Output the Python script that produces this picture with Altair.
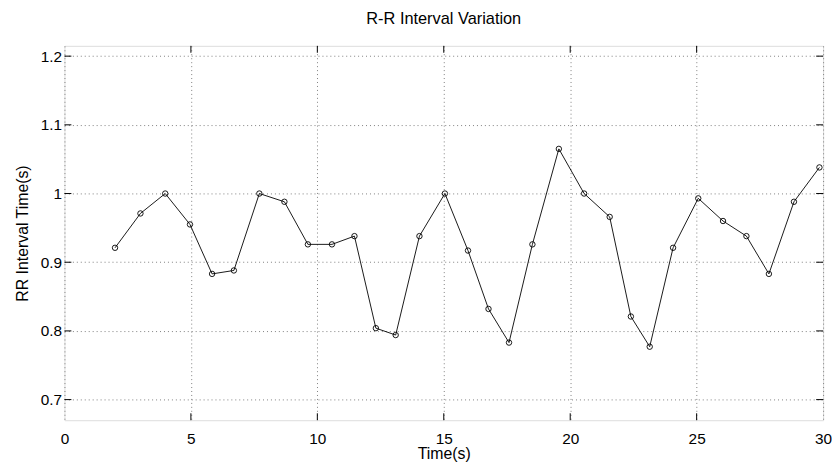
import altair as alt
import pandas as pd

time_s = [2.00, 3.005, 3.985, 4.964, 5.838, 6.70, 7.707, 8.698, 9.627, 10.579,
          11.468, 12.315, 13.098, 14.038, 15.045, 15.958, 16.769, 17.580, 18.505, 19.551,
          20.55, 21.561, 22.399, 23.144, 24.068, 25.063, 26.043, 26.968, 27.857, 28.848, 29.855]
rr_s = [0.921, 0.971, 1.000, 0.955, 0.883, 0.888, 1.000, 0.988, 0.926, 0.926,
        0.938, 0.804, 0.794, 0.938, 1.000, 0.917, 0.832, 0.783, 0.926, 1.065,
        1.000, 0.966, 0.821, 0.777, 0.921, 0.993, 0.960, 0.938, 0.883, 0.988, 1.038]
x_ticks = [0, 5, 10, 15, 20, 25, 30]
y_ticks = [0.7, 0.8, 0.9, 1.0, 1.1, 1.2]

W, H = 766, 378
TL = 7
FONT = "Liberation Sans"

df = pd.DataFrame({"t": time_s, "rr": rr_s})
xt = pd.DataFrame({"t": x_ticks[1:-1]})
yt = pd.DataFrame({"rr": y_ticks})

xs = alt.Scale(domain=[0, 30], nice=False, zero=False)
ys = alt.Scale(domain=[0.67, 1.215], nice=False, zero=False)

x_axis = alt.Axis(values=x_ticks, grid=True, gridDash=[1, 3], gridColor="#808080",
                  gridWidth=1, ticks=False, domain=False, labelPadding=12,
                  labelFontSize=15.5, labelFont=FONT, labelColor="black",
                  title="Time(s)", titleFontSize=16, titleFont=FONT,
                  titleFontWeight="normal", titleColor="black", titlePadding=-2,
                  labelFlush=False)
y_axis = alt.Axis(values=y_ticks, grid=True, gridDash=[1, 3], gridColor="#808080",
                  gridWidth=1, ticks=False, domain=False, labelPadding=3,
                  labelFontSize=15.5, labelFont=FONT, labelColor="black", format="~g",
                  title="RR Interval Time(s)", titleFontSize=16, titleFont=FONT,
                  titleFontWeight="normal", titleColor="black", titlePadding=10)


def X(f="t"):
    return alt.X(f, type="quantitative", scale=xs, axis=x_axis)


def Y(f="rr"):
    return alt.Y(f, type="quantitative", scale=ys, axis=y_axis)


line = alt.Chart(df).mark_line(color="black", strokeWidth=0.9).encode(x=X(), y=Y())
pts = alt.Chart(df).mark_point(shape="circle", filled=False, size=30, color="black",
                               strokeWidth=0.9, opacity=1).encode(x=X(), y=Y())

yl = alt.Chart(yt).mark_rule(color="black", strokeWidth=1).encode(
    y=Y(), x=alt.value(0), x2=alt.value(TL))
yr = alt.Chart(yt).mark_rule(color="black", strokeWidth=1).encode(
    y=Y(), x=alt.value(W - TL), x2=alt.value(W))
xb = alt.Chart(xt).mark_rule(color="black", strokeWidth=1).encode(
    x=X(), y=alt.value(H - TL), y2=alt.value(H))
xtop = alt.Chart(xt).mark_rule(color="black", strokeWidth=1).encode(
    x=X(), y=alt.value(0), y2=alt.value(TL))

chart = alt.layer(line, pts, yl, yr, xb, xtop).properties(
    width=W, height=H,
    title=alt.Title("R-R Interval Variation", fontSize=16.5, fontWeight="normal",
                    font=FONT, color="black", anchor="middle", offset=18),
    autosize=alt.AutoSizeParams(type="none"),
    padding={"left": 57, "top": 36, "right": 9, "bottom": 42},
).configure_view(stroke="black", strokeWidth=1.2).configure(background="white")

chart.save("out.html", embed_options={"renderer": "svg", "actions": False})
